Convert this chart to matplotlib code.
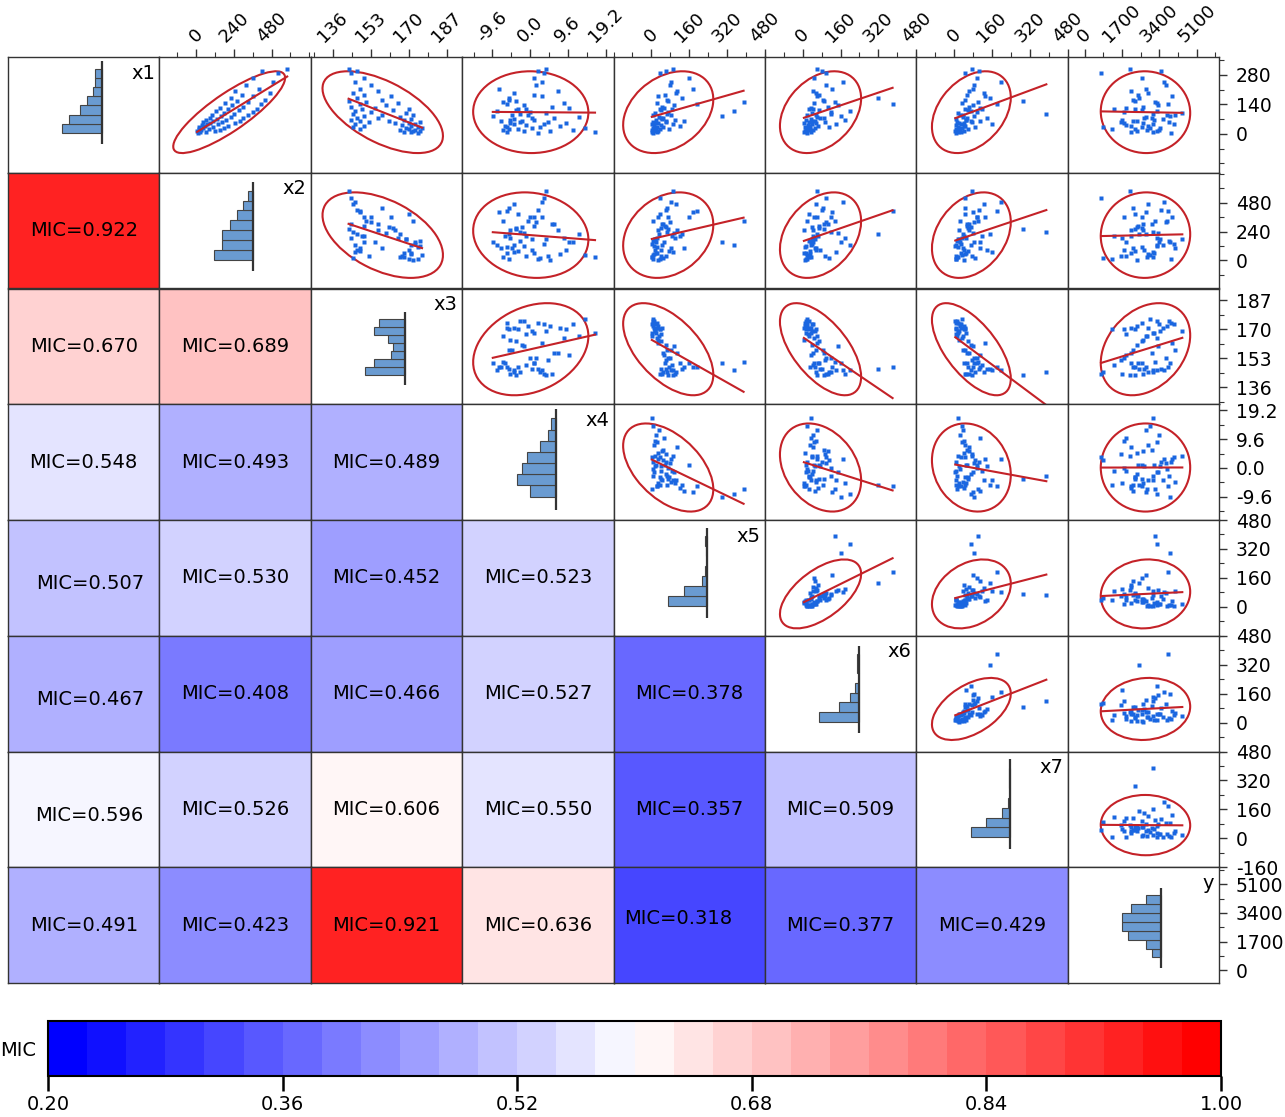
import numpy as np
import matplotlib
matplotlib.use("Agg")
import matplotlib.pyplot as plt
from matplotlib.colors import ListedColormap, BoundaryNorm
from matplotlib.patches import Ellipse
from matplotlib.ticker import FixedLocator, MultipleLocator, FormatStrFormatter
import matplotlib.colorbar as mcolorbar

# ---- sample values ----
names = ["x1", "x2", "x3", "x4", "x5", "x6", "x7", "y"]

x1 = [5, 8, 10, 12, 15, 18, 20, 22, 25, 28, 30, 32, 35, 38, 40, 42, 45, 48, 50, 52,
      55, 58, 60, 62, 65, 68, 70, 74, 78, 82, 85, 88, 92, 96, 100, 104, 108, 112, 116, 120,
      125, 130, 135, 140, 145, 150, 156, 162, 170, 178, 185, 195, 205, 215, 230, 245, 265, 290, 300, 310]
x2 = [10, 60, 25, 120, 5, 30, 150, 15, 80, 45, 180, 20, 110, 55, 200, 35, 140, 70, 250, 90,
      40, 165, 105, 280, 60, 190, 130, 300, 85, 220, 155, 330, 100, 240, 175, 360, 125, 270, 200, 390,
      150, 300, 230, 410, 185, 330, 260, 440, 220, 360, 290, 470, 250, 400, 320, 490, 360, 520, 420, 580]
x3 = [174, 171, 168, 175, 172, 166, 173, 170, 148, 176, 169, 145, 174, 171, 150, 167, 173, 146, 164, 170,
      152, 175, 148, 161, 168, 144, 171, 156, 147, 166, 150, 172, 158, 145, 169, 153, 146, 163, 149, 170,
      155, 144, 160, 148, 165, 151, 143, 158, 147, 162, 150, 145, 156, 148, 153, 146, 150, 144, 147, 143]
x4 = [2.0, -6.0, 16.5, -1.5, 5.0, -7.0, 11.0, -5.5, -3.0, 14.0, 0.5, 2.5, -6.0, 7.5, -6.5, -1.0, 3.5, -4.0, -5.0, 9.0,
      4.5, -2.5, -7.5, -2.0, 1.0, -5.0, -4.0, 6.0, 0.5, 12.5, -9.5, -0.5, -4.5, -2.5, 4.0, 0.0, -8.5, -3.5, -1.0, -3.0,
      10.0, 5.5, -1.5, -6.0, 8.5, -7.0, -3.5, -5.5, -5.5, 3.0, 1.0, -4.0, 7.0, -8.0, 1.5, 3.0, 1.0, 3.5, 2.0, 4.0]
x5 = [8, 22, 4, 12, 30, 2, 18, 35, 75, 6, 15, 50, 25, 10, 120, 40, 3, 90, 28, 14,
      60, 9, 140, 60, 20, 100, 45, 48, 40, 32, 300, 5, 85, 68, 16, 70, 350, 42, 88, 38,
      55, 45, 95, 195, 24, 390, 72, 65, 130, 30, 58, 105, 110, 175, 78, 82, 160, 35, 62, 92]
x6 = [20, 6, 35, 15, 10, 28, 45, 12, 30, 18, 50, 110, 8, 30, 65, 22, 40, 140, 5, 55,
      95, 25, 50, 40, 14, 180, 33, 90, 75, 60, 160, 16, 55, 120, 38, 120, 200, 70, 42, 26,
      35, 105, 150, 380, 48, 135, 88, 85, 320, 62, 70, 58, 45, 125, 100, 170, 48, 100, 80, 60]
x7 = [10, 30, 18, 5, 42, 12, 25, 8, 60, 35, 22, 90, 15, 48, 40, 6, 28, 160, 20, 40,
      75, 14, 110, 70, 52, 50, 9, 55, 140, 38, 85, 24, 38, 390, 16, 95, 70, 60, 120, 45,
      110, 65, 80, 180, 32, 100, 290, 45, 150, 130, 55, 125, 65, 80, 85, 200, 95, 45, 105, 75]
y = [3950, 2100, 3100, 3300, 2400, 2850, 3400, 1250, 2300, 3000, 3450, 850, 2600, 2900, 2100, 1900, 4050, 3100, 2650, 1800,
     1650, 3850, 2200, 2400, 3150, 1700, 3550, 3050, 2700, 2800, 3900, 3750, 4100, 3100, 4450, 1800, 3300, 2600, 1350, 2300,
     1900, 2650, 3350, 3800, 3300, 3200, 2300, 2200, 2500, 4000, 2450, 2900, 2100, 2800, 3700, 3600, 2600, 750, 3500, 2050]

# MIC values, lower triangle (row i, columns 0..i-1)
mic_rows = [
    [],
    [0.922],
    [0.670, 0.689],
    [0.548, 0.493, 0.489],
    [0.507, 0.530, 0.452, 0.523],
    [0.467, 0.408, 0.466, 0.527, 0.378],
    [0.596, 0.526, 0.606, 0.550, 0.357, 0.509],
    [0.491, 0.423, 0.921, 0.636, 0.318, 0.377, 0.429],
]

# axis ranges and tick values for each variable
var_limits = [(-184, 365), (-235, 730), (126, 194), (-17.3, 21.2),
              (-160, 480), (-160, 480), (-160, 480), (-770, 6120)]
top_ticks = [None, [0, 240, 480], [136, 153, 170, 187], [-9.6, 0.0, 9.6, 19.2],
             [0, 160, 320, 480], [0, 160, 320, 480], [0, 160, 320, 480], [0, 1700, 3400, 5100]]
right_ticks = [[0, 140, 280], [0, 240, 480], [136, 153, 170, 187], [-9.6, 0.0, 9.6, 19.2],
               [0, 160, 320, 480], [0, 160, 320, 480], [-160, 0, 160, 320, 480], [0, 1700, 3400, 5100]]
tick_fmt = ["%d", "%d", "%d", "%.1f", "%d", "%d", "%d", "%d"]

cbar_ticks = [0.20, 0.36, 0.52, 0.68, 0.84, 1.00]

# small nudges (pixels) for a few MIC labels
label_nudge = {(4, 0): (6, 6), (5, 0): (6, 6), (6, 0): (6, 6), (7, 4): (-11, -7)}

data = [np.asarray(v, dtype=float) for v in (x1, x2, x3, x4, x5, x6, x7, y)]

# ---- styling ----
plt.rcParams["font.family"] = ["DejaVu Sans"]
W, H = 1285, 1117
fig = plt.figure(figsize=(W / 100, H / 100), dpi=100)

n_levels = 30
cmap = ListedColormap(plt.get_cmap("bwr")(np.linspace(0, 1, n_levels)))
norm = BoundaryNorm(np.linspace(0.2, 1.0, n_levels + 1), n_levels)

pt_color = "#1a66e0"
red = "#c42228"
bar_color = "#6a9bd1"
frame_color = "#333333"

gx0, gx1, gy0, gy1 = 8, 1219, 57, 983
cw = (gx1 - gx0) / 8
ch = (gy1 - gy0) / 8
k95 = np.sqrt(-2 * np.log(0.05))
n = len(names)


def cell_axes(i, j):
    return fig.add_axes([(gx0 + j * cw) / W, 1 - (gy0 + (i + 1) * ch) / H, cw / W, ch / H])


for i in range(n):
    for j in range(n):
        ax = cell_axes(i, j)
        for s in ax.spines.values():
            s.set_color(frame_color)
            s.set_linewidth(1.0)
        ax.tick_params(which="both", left=False, bottom=False, labelleft=False, labelbottom=False)

        if i > j:
            v = mic_rows[i][j]
            ax.set_facecolor(cmap(norm(v)))
            dx, dy = label_nudge.get((i, j), (0, 0))
            ax.text(0.5 + dx / cw, 0.5 - dy / ch, "MIC=%.3f" % v, transform=ax.transAxes,
                    ha="center", va="center", fontsize=14, color="black")
            ax.set_xticks([])
            ax.set_yticks([])
        elif i == j:
            v = data[i]
            counts, edges = np.histogram(v, bins=7)
            cmax = counts.max()
            ax.barh((edges[:-1] + edges[1:]) / 2, -counts, height=np.diff(edges), left=0,
                    color=bar_color, edgecolor="#444444", linewidth=0.8)
            rng = edges[-1] - edges[0]
            ax.vlines(0, edges[0] - 0.17 * rng, edges[-1] + 0.12 * rng, color="#333333", lw=1.6)
            ax.set_xlim(-cmax * 0.62 / 0.26, cmax * 0.38 / 0.26)
            ax.set_ylim(var_limits[i])
            ax.set_xticks([])
            ax.text(0.97, 0.86, names[i], transform=ax.transAxes, ha="right", va="center", fontsize=14)
        else:
            xv, yv = data[j], data[i]
            ax.plot(xv, yv, "s", ms=2.3, color=pt_color, mec="none")
            cov = np.cov(xv, yv)
            vals, vecs = np.linalg.eigh(cov)
            order = vals.argsort()[::-1]
            vals, vecs = vals[order], vecs[:, order]
            ang = np.degrees(np.arctan2(vecs[1, 0], vecs[0, 0]))
            ax.add_patch(Ellipse((xv.mean(), yv.mean()), 2 * k95 * np.sqrt(vals[0]),
                                 2 * k95 * np.sqrt(vals[1]), angle=ang, fill=False,
                                 edgecolor=red, lw=1.5))
            slope, icpt = np.polyfit(xv, yv, 1)
            xs = np.array([xv.min(), xv.max()])
            ax.plot(xs, slope * xs + icpt, color=red, lw=1.5)
            ax.set_xlim(var_limits[j])
            ax.set_ylim(var_limits[i])

        # outer tick labels: top row and right column
        if i == 0 and j > 0:
            ax.set_xlim(var_limits[j])
            ax.xaxis.set_ticks_position("top")
            tv = top_ticks[j]
            ax.xaxis.set_major_locator(FixedLocator(tv))
            ax.xaxis.set_minor_locator(MultipleLocator((tv[1] - tv[0]) / 2))
            ax.xaxis.set_major_formatter(FormatStrFormatter(tick_fmt[j]))
            ax.tick_params(axis="x", which="both", top=True, labeltop=True, direction="out",
                           color=frame_color)
            ax.tick_params(axis="x", which="major", length=6, width=1, labelsize=13, pad=2,
                           labelrotation=45)
            ax.tick_params(axis="x", which="minor", length=3.5, width=0.8)
        else:
            ax.tick_params(axis="x", which="both", top=False, labeltop=False)
        if j == n - 1:
            ax.yaxis.set_ticks_position("right")
            tv = right_ticks[i]
            ax.yaxis.set_major_locator(FixedLocator(tv))
            step = (tv[1] - tv[0]) / 2
            ax.yaxis.set_minor_locator(MultipleLocator(step))
            ax.yaxis.set_major_formatter(FormatStrFormatter(tick_fmt[i]))
            ax.tick_params(axis="y", which="both", right=True, labelright=True, direction="out",
                           color=frame_color)
            ax.tick_params(axis="y", which="major", length=6, width=1, labelsize=13.5, pad=6)
            ax.tick_params(axis="y", which="minor", length=3.5, width=0.8)
        else:
            ax.tick_params(axis="y", which="both", right=False, labelright=False)

# ---- colour scale ----
cax = fig.add_axes([48 / W, 1 - 1076 / H, 1173 / W, 55 / H])
cb = mcolorbar.ColorbarBase(cax, cmap=cmap, norm=norm, orientation="horizontal",
                            ticks=cbar_ticks, format="%.2f")
cb.outline.set_linewidth(1.5)
cb.outline.set_edgecolor("black")
cax.tick_params(axis="x", direction="out", length=11, width=1.8, labelsize=14, pad=3)
cax.minorticks_off()
fig.text(18 / W, 1 - 1050 / H, "MIC", ha="center", va="center", fontsize=14)

fig.savefig("out.png", dpi=100)
